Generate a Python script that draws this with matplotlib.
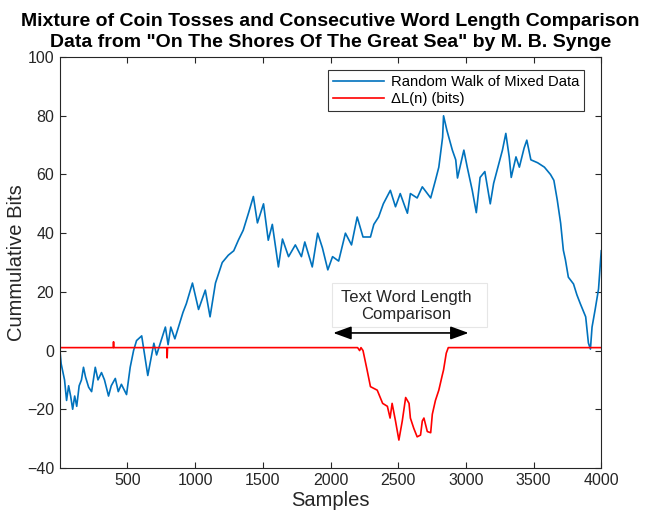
import matplotlib
matplotlib.use("Agg")
import matplotlib.pyplot as plt
from matplotlib.patches import Rectangle

plt.rcParams['font.family'] = ['Liberation Sans', 'DejaVu Sans']

# Random walk of mixed data (sample, value)
walk_x = [1, 10, 35, 50, 65, 80, 95, 110, 125, 143, 160, 175, 190, 213, 235, 262, 282, 308, 330, 360,
          380, 410, 432, 455, 493, 520, 545, 567, 605, 650, 695, 715, 780, 800, 820, 850, 910, 935, 980,
          1025, 1075, 1110, 1150, 1200, 1245, 1285, 1320, 1355, 1395, 1430, 1460, 1505, 1540, 1570, 1615,
          1645, 1690, 1740, 1785, 1810, 1865, 1905, 1940, 1980, 2015, 2060, 2110, 2155, 2197, 2240, 2295,
          2320, 2355, 2390, 2442, 2480, 2515, 2550, 2568, 2590, 2640, 2678, 2715, 2740, 2775, 2800, 2828,
          2835, 2860, 2900, 2925, 2938, 2985, 3010, 3047, 3077, 3105, 3140, 3180, 3205, 3245, 3270, 3295,
          3320, 3335, 3370, 3395, 3430, 3450, 3480, 3530, 3580, 3625, 3650, 3675, 3700, 3720, 3735, 3757,
          3795, 3820, 3845, 3885, 3905, 3920, 3932, 3955, 3980, 4000]
walk_y = [0, -4.5, -10, -17, -12, -15.5, -20, -15.5, -19, -12, -10, -5.7, -9, -12.5, -14, -5.7, -10, -7.5, -10, -15.5,
          -12, -9.5, -14, -11.5, -15, -5.7, 0, 3.4, 5, -8.5, 2.5, -1.5, 8, 2, 8, 4, 13, 16, 23,
          14, 20.6, 11.5, 23, 30, 32.5, 34, 37.7, 41, 47, 52.5, 43.5, 50, 37.6, 43, 28.5,
          38, 32, 36, 32, 37, 28.5, 40, 35, 27.5, 32, 30.5, 40, 36, 45.5, 38.7, 38.7,
          43, 45.5, 50, 54.6, 49, 53.5, 49, 46.8, 53.5, 52, 55.8, 53.5, 52, 58, 62.5, 72.7,
          80, 75, 68.3, 65, 58.8, 68.3, 62.5, 54.6, 47, 59, 61, 50, 57, 64, 68.3, 74,
          66, 59, 66, 62.5, 69, 71.7, 65, 64, 62.5, 60, 58, 51.3, 43.4, 34.2, 31, 25,
          22.7, 19, 16, 11.5, 2.6, 0.5, 8, 14, 21, 34]

# Delta L(n) in bits (sample, value)
dl_x = [1, 395, 397, 399, 790, 793, 796, 2200, 2215, 2225, 2240, 2270, 2295, 2345, 2385, 2420, 2440, 2455,
        2480, 2505, 2530, 2555, 2580, 2590, 2615, 2640, 2665, 2678, 2690, 2715, 2740, 2752, 2775, 2800,
        2825, 2835, 2855, 2870, 4000]
dl_y = [1, 1, 3, 1, 1, -2.5, 1, 1, 0, 1, 0, -6.6, -12.3, -13.5, -18, -19, -23, -18,
        -24, -30.5, -24, -16, -18, -23, -26.5, -29.4, -28.8, -24, -23, -27.6, -28, -21.7, -17, -13.5,
        -8.5, -6.6, -0.9, 1, 1]

x_ticks = [500, 1000, 1500, 2000, 2500, 3000, 3500, 4000]
y_ticks = [-40, -20, 0, 20, 40, 60, 80, 100]

fig = plt.figure(figsize=(6.5, 5.24), dpi=100)
ax = fig.add_axes([0.092, 0.107, 0.833, 0.784])

ax.plot(walk_x, walk_y, color='#0072BD', lw=1.2, label='Random Walk of Mixed Data')
ax.plot(dl_x, dl_y, color='#FF0000', lw=1.2, label='\u0394L(n) (bits)')

ax.set_xlim(0, 4000)
ax.set_ylim(-40, 100)
ax.set_xticks(x_ticks)
ax.set_yticks(y_ticks)
ax.tick_params(direction='in', top=True, right=True, labelsize=11.5, colors='#262626', length=4, pad=4)
for s in ax.spines.values():
    s.set_color('#262626')
    s.set_linewidth(0.8)

ax.set_xlabel('Samples', fontsize=14.5, color='#262626', labelpad=2)
ax.set_ylabel('Cummulative Bits', fontsize=14.5, color='#262626', labelpad=1)
ax.set_title('Mixture of Coin Tosses and Consecutive Word Length Comparison\n'
             'Data from "On The Shores Of The Great Sea" by M. B. Synge',
             fontsize=14, fontweight='bold', pad=7, linespacing=1.3)

leg = ax.legend(loc='upper right', bbox_to_anchor=(0.974, 0.975), fontsize=10.6, frameon=True,
                fancybox=False, edgecolor='black', handlelength=3.5, borderpad=0.3,
                labelspacing=0.25, handletextpad=0.5, borderaxespad=0.2)
leg.get_frame().set_linewidth(0.8)

ax.add_patch(Rectangle((2014, 8.0), 1144, 15.0, fc='white', ec='#e6e6e6', lw=0.8, zorder=3))
ax.text(2560, 15.3, 'Text Word Length\nComparison', ha='center', va='center', fontsize=12,
        color='#262626', linespacing=1.15, zorder=4)
ax.annotate('', xy=(2020, 6), xytext=(3020, 6),
            arrowprops=dict(arrowstyle='<|-|>,head_length=1.1,head_width=0.4', color='black', lw=1.2,
                            shrinkA=0, shrinkB=0))

fig.savefig('out.png', dpi=100)
